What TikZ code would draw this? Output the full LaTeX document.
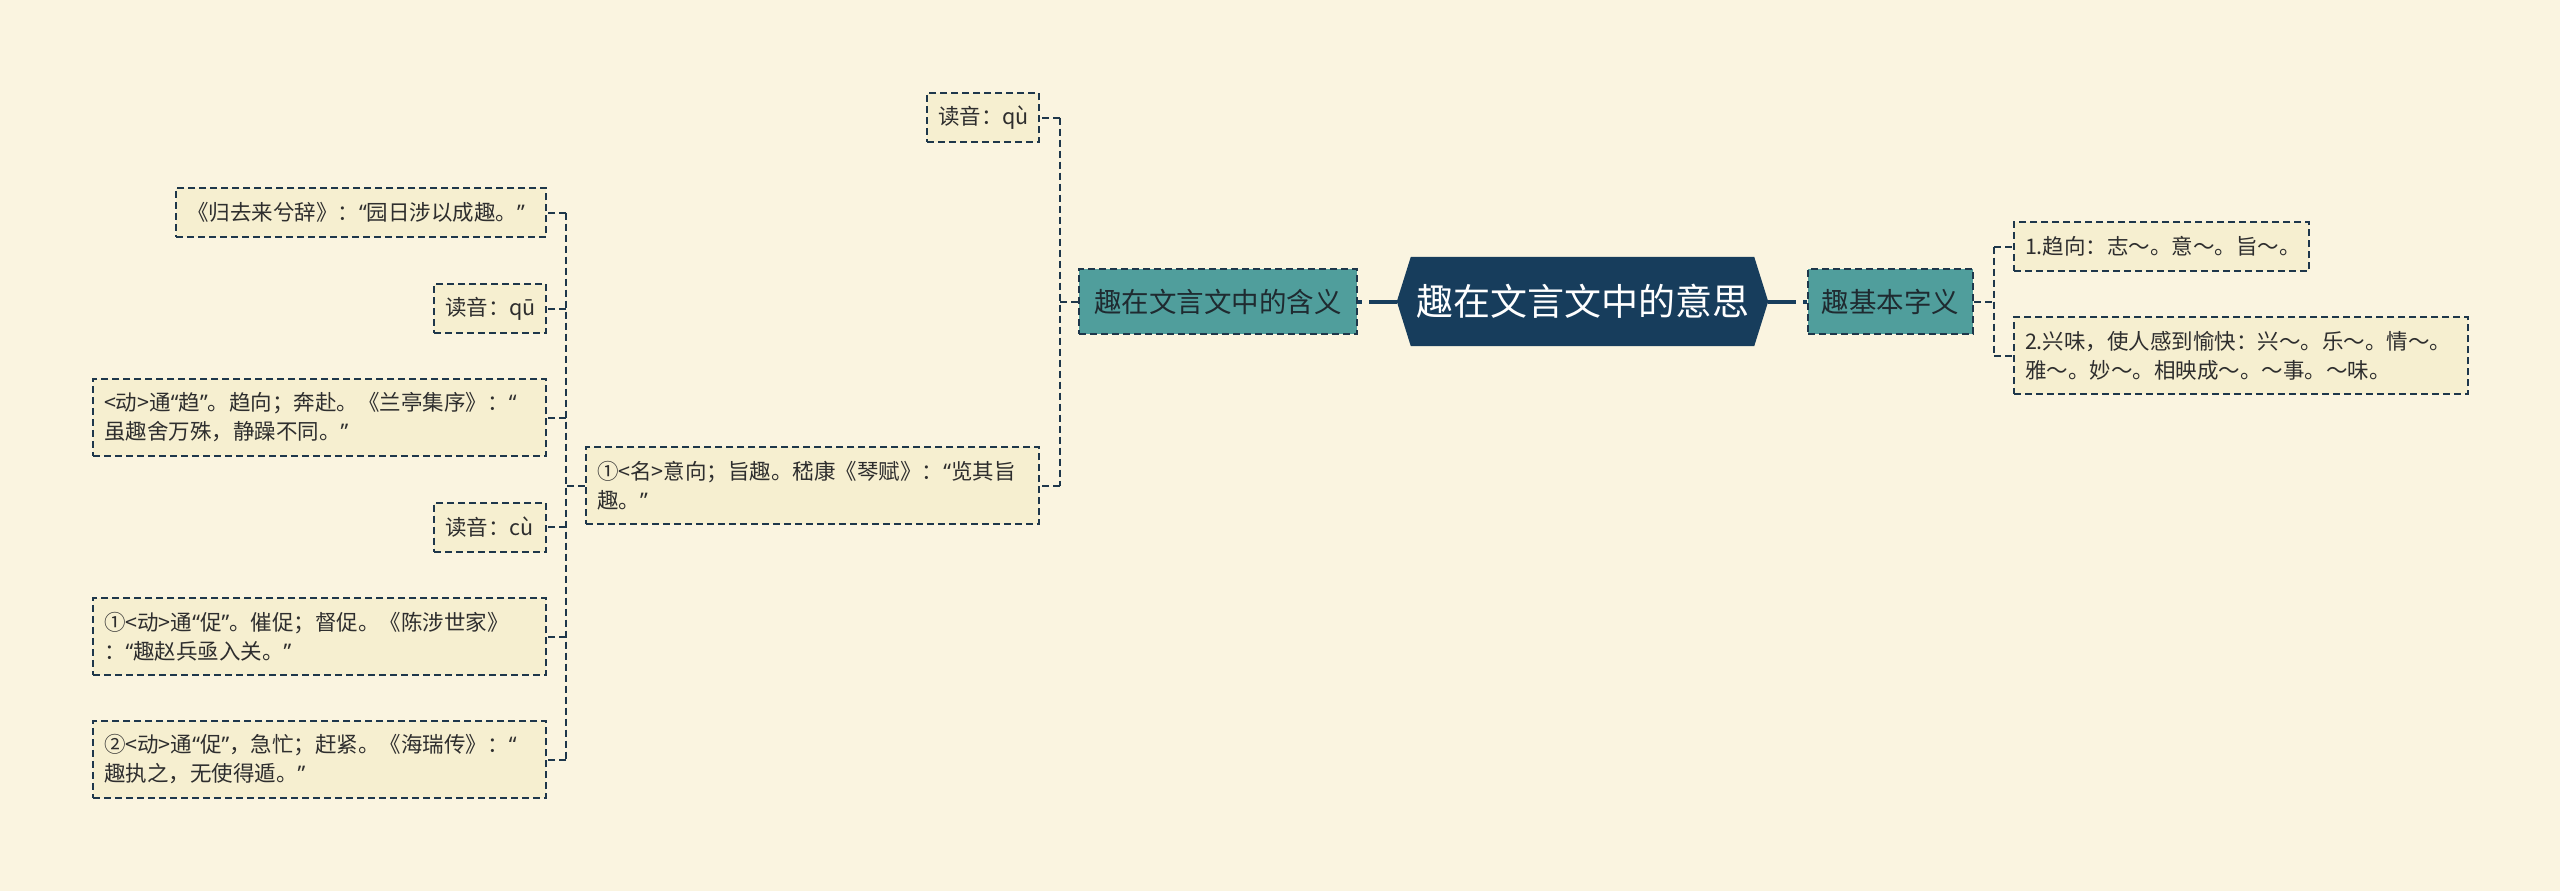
\documentclass[tikz,border=0pt]{standalone}
\usepackage{fontspec}
\setmainfont{Noto Sans CJK SC}
\newfontfamily\qtfont{Noto Sans}
\newcommand{\oqt}{{\qtfont “}}
\newcommand{\cqt}{{\qtfont ”}}
\definecolor{bg}{HTML}{FAF4E0}
\definecolor{leaffill}{HTML}{F6EFD0}
\definecolor{tealfill}{HTML}{509E9C}
\definecolor{navy}{HTML}{173D5C}
\definecolor{lc}{HTML}{1E374B}
\definecolor{txt}{HTML}{2E2E2E}
\definecolor{txtb}{HTML}{1F2A30}
\tikzset{
  conn/.style={draw=lc, line width=2pt, dash pattern=on 7pt off 4pt},
  rootconn/.style={draw=navy, line width=4pt, dash pattern=on 28pt off 7pt},
  leaf/.style={draw=lc, line width=2pt, dash pattern=on 7pt off 4pt, fill=leaffill, text=txt,
    font=\fontsize{21.5}{29}\selectfont, align=left, inner xsep=11pt, inner ysep=0pt,
    minimum height=49pt},
  leaftwo/.style={leaf, minimum height=77pt},
  lw/.style={text width=#1-22pt, minimum width=#1},
  midbox/.style={draw=lc, line width=2.5pt, dash pattern=on 7pt off 4pt, fill=tealfill, text=txtb,
    font=\fontsize{27.5}{33}\selectfont, inner sep=0pt, minimum height=65pt},
  rootbox/.style={text=white, font=\fontsize{37}{41}\selectfont, inner sep=0pt,
    minimum width=371pt, minimum height=89pt}
}
\begin{document}
\begin{tikzpicture}[x=1pt, y=-1pt]
\useasboundingbox (0,0) rectangle (2560,891);
\fill[bg] (0,0) rectangle (2560,891);

% root
\node[rootbox] (root) at (1582.5,301.5) {};
\fill[navy] (root.west) -- ([xshift=14pt]root.north west) -- ([xshift=-14pt]root.north east)
  -- (root.east) -- ([xshift=-14pt]root.south east) -- ([xshift=14pt]root.south west) -- cycle;
\node[rootbox] (roottext) at (root.center) {趣在文言文中的意思};

% second level
\node[midbox, minimum width=278pt] (L) at (1218,301.5) {趣在文言文中的含义};
\node[midbox, minimum width=165pt] (R) at (1890.5,301.5) {趣基本字义};

% right leaves
\node[leaf, lw=295pt] (r1) at (2161.5,246.5) {1.趋向：志～。意～。旨～。};
\node[leaftwo, lw=454pt] (r2) at (2241,355.5) {2.兴味，使人感到愉快：兴～。乐～。情～。\\雅～。妙～。相映成～。～事。～味。};

% middle leaves
\node[leaf, lw=112pt] (m1) at (983,117.5) {读音：qù};
\node[leaftwo, lw=453pt] (m2) at (812.5,485.5) {①<名>意向；旨趣。嵇康《琴赋》：\oqt 览其旨\\趣。\cqt};

% left leaves
\node[leaf, lw=370pt] (l1) at (361,212.5) {《归去来兮辞》：\oqt 园日涉以成趣。\cqt};
\node[leaf, lw=112pt] (l2) at (490,308.5) {读音：qū};
\node[leaftwo, lw=453pt] (l3) at (319.5,417.5) {<动>通\oqt 趋\cqt 。趋向；奔赴。《兰亭集序》：\oqt\\虽趣舍万殊，静躁不同。\cqt};
\node[leaf, lw=112pt] (l4) at (490,527) {读音：cù};
\node[leaftwo, lw=453pt] (l5) at (319.5,636.5) {①<动>通\oqt 促\cqt 。催促；督促。《陈涉世家》\\：\oqt 趣赵兵亟入关。\cqt};
\node[leaftwo, lw=453pt] (l6) at (319.5,759.5) {②<动>通\oqt 促\cqt ，急忙；赶紧。《海瑞传》：\oqt\\趣执之，无使得遁。\cqt};

% spine coordinates
\coordinate (vr) at (1994,0);
\coordinate (vm) at (1060,0);
\coordinate (vl) at (566,0);

% root connectors
\draw[rootconn] (root.west) -- (L.east);
\draw[rootconn] (root.east) -- (R.west);

% right group
\draw[conn] (R.east) -- (R.east -| vr);
\draw[conn] (r1.west -| vr) -- (r2.west -| vr);
\draw[conn] (r1.west -| vr) -- (r1.west);
\draw[conn] (r2.west -| vr) -- (r2.west);

% middle group
\draw[conn] (L.west) -- (L.west -| vm);
\draw[conn] (m1.east -| vm) -- (m2.east -| vm);
\draw[conn] (m1.east -| vm) -- (m1.east);
\draw[conn] (m2.east -| vm) -- (m2.east);

% left group
\draw[conn] (m2.west) -- (m2.west -| vl);
\draw[conn] (l1.east -| vl) -- (l6.east -| vl);
\foreach \n in {l1,l2,l3,l4,l5,l6}{
  \draw[conn] (\n.east -| vl) -- (\n.east);
}
\end{tikzpicture}
\end{document}
